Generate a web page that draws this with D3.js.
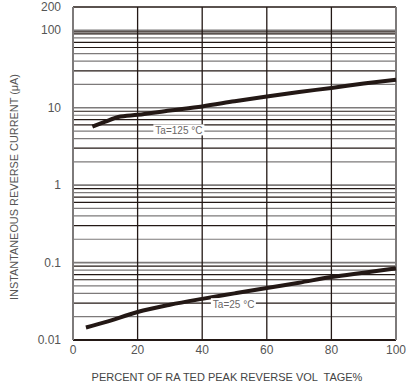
<!DOCTYPE html>
<html>
<head>
<meta charset="utf-8">
<script src="https://cdn.jsdelivr.net/npm/d3@7"></script>
<style>
  body { margin: 0; background: #fff; }
  svg { display: block; }
</style>
</head>
<body>
<div id="chart"></div>
<script>
// data
const pct125 = [6, 10, 14, 20, 30, 40, 50, 60, 70, 80, 90, 100];
const cur125 = [5.7, 6.6, 7.6, 8.1, 9.2, 10.4, 12.1, 14, 16, 18, 20.5, 23];
const pct25 = [4, 10, 20, 30, 40, 50, 60, 70, 80, 90, 100];
const cur25 = [0.0145, 0.017, 0.023, 0.0285, 0.034, 0.040, 0.047, 0.055, 0.065, 0.074, 0.084];
const xTicks = [0, 20, 40, 60, 80, 100];
const yTicks = [0.01, 0.1, 1, 10, 100, 200];
const yTickLabels = ["0.01", "0.1", "1", "10", "100", "200"];

const width = 413, height = 387;
const margin = { left: 73, right: 17, top: 7, bottom: 47 };
const ink = "#231815";
const gray = "#7d7a7a";

const svg = d3.select("#chart").append("svg")
    .attr("width", width)
    .attr("height", height);

const x = d3.scaleLinear().domain([0, 100]).range([margin.left, width - margin.right]);
const y = d3.scaleLog().domain([0.01, 200]).range([height - margin.bottom, margin.top]);

// minor horizontal grid, k x 10^n
const gridShade = { 1: gray, 2: gray, 3: ink, 4: gray, 5: gray, 6: ink, 7: ink, 8: gray, 9: ink };
const gridVals = [];
[0.01, 0.1, 1, 10, 100].forEach(dec => {
    for (let k = 1; k <= 9; k++) gridVals.push({ v: dec * k, k: k });
});
gridVals.push({ v: 100, k: 3 }); // double line at 100

svg.append("g")
    .selectAll("line")
    .data(gridVals.filter(d => d.v > 0.01 && d.v < 200))
    .join("line")
    .attr("x1", x(0)).attr("x2", x(100))
    .attr("y1", d => y(d.v) + (d.k === 3 && d.v === 100 ? 1.5 : 0))
    .attr("y2", d => y(d.v) + (d.k === 3 && d.v === 100 ? 1.5 : 0))
    .attr("stroke", d => gridShade[d.k])
    .attr("stroke-width", d => d.k === 1 ? 1.6 : 1.2);

// vertical grid
svg.append("g")
    .selectAll("line")
    .data([20, 40, 60, 80])
    .join("line")
    .attr("x1", d => x(d)).attr("x2", d => x(d))
    .attr("y1", y(200)).attr("y2", y(0.01))
    .attr("stroke", ink)
    .attr("stroke-width", 1.3);

// frame
svg.append("line").attr("x1", x(0)).attr("x2", x(100)).attr("y1", y(200)).attr("y2", y(200))
    .attr("stroke", ink).attr("stroke-width", 1.5);
svg.append("line").attr("x1", x(0)).attr("x2", x(100)).attr("y1", y(0.01)).attr("y2", y(0.01))
    .attr("stroke", ink).attr("stroke-width", 2);
svg.append("line").attr("x1", x(0)).attr("x2", x(0)).attr("y1", y(200)).attr("y2", y(0.01))
    .attr("stroke", gray).attr("stroke-width", 2);
svg.append("line").attr("x1", x(100)).attr("x2", x(100)).attr("y1", y(200)).attr("y2", y(0.01))
    .attr("stroke", gray).attr("stroke-width", 2);

// curves
const line = d3.line()
    .x(d => x(d[0]))
    .y(d => y(d[1]))
    .curve(d3.curveMonotoneX);

svg.append("path")
    .datum(pct125.map((p, i) => [p, cur125[i]]))
    .attr("d", line)
    .attr("fill", "none")
    .attr("stroke", ink)
    .attr("stroke-width", 4);

svg.append("path")
    .datum(pct25.map((p, i) => [p, cur25[i]]))
    .attr("d", line)
    .attr("fill", "none")
    .attr("stroke", ink)
    .attr("stroke-width", 4);

// curve labels on white patches
function tag(txt, px, py, w) {
    svg.append("rect")
        .attr("x", x(px) - 2).attr("y", y(py) - 6)
        .attr("width", w).attr("height", 11)
        .attr("fill", "#fff");
    svg.append("text")
        .attr("x", x(px)).attr("y", y(py) + 3.5)
        .attr("font-family", "Liberation Sans, Arial, sans-serif")
        .attr("font-size", 10)
        .attr("fill", "#6a6666")
        .text(txt);
}
tag("Ta=125 °C", 25.5, 5.1, 51);
tag("Ta=25 °C", 43.3, 0.029, 45);

// tick labels
svg.append("g")
    .selectAll("text")
    .data(xTicks)
    .join("text")
    .attr("x", d => x(d))
    .attr("y", height - margin.bottom + 14)
    .attr("text-anchor", "middle")
    .attr("font-family", "Liberation Sans, Arial, sans-serif")
    .attr("font-size", 12)
    .attr("fill", "#555")
    .text(d => d);

svg.append("g")
    .selectAll("text")
    .data(yTicks)
    .join("text")
    .attr("x", 61)
    .attr("y", d => y(d) + 4)
    .attr("text-anchor", "end")
    .attr("font-family", "Liberation Sans, Arial, sans-serif")
    .attr("font-size", 12)
    .attr("fill", "#555")
    .text((d, i) => yTickLabels[i]);

// axis titles
svg.append("text")
    .attr("x", 227)
    .attr("y", 381)
    .attr("text-anchor", "middle")
    .attr("font-family", "Liberation Sans, Arial, sans-serif")
    .attr("font-size", 11)
    .attr("fill", "#444")
    .attr("xml:space", "preserve")
    .style("white-space", "pre")
    .text("PERCENT OF RA TED PEAK REVERSE VOL  TAGE%");

svg.append("text")
    .attr("transform", "translate(18,187) rotate(-90)")
    .attr("text-anchor", "middle")
    .attr("font-family", "Liberation Sans Narrow, Liberation Sans, Arial, sans-serif")
    .attr("font-size", 11)
    .attr("fill", "#555")
    .attr("textLength", 226)
    .attr("lengthAdjust", "spacingAndGlyphs")
    .text("INSTANTANEOUS REVERSE CURRENT (μA)");
</script>
</body>
</html>
